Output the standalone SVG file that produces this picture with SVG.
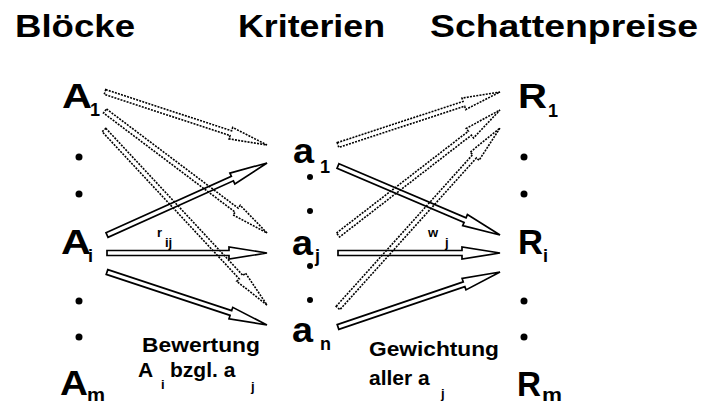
<svg xmlns="http://www.w3.org/2000/svg" width="702" height="405" viewBox="0 0 702 405">
<style>
.t{font-family:"Liberation Sans",Arial,sans-serif;font-weight:bold;font-size:31px;fill:#000}
.big{font-family:"Liberation Sans",Arial,sans-serif;font-weight:bold;font-size:35px;fill:#000}
.sm{font-family:"Liberation Sans",Arial,sans-serif;font-weight:bold;font-size:18px;fill:#000}
.lb{font-family:"Liberation Sans",Arial,sans-serif;font-weight:bold;font-size:21px;fill:#000}
.ls{font-family:"Liberation Sans",Arial,sans-serif;font-weight:bold;font-size:13px;fill:#000}
.ar{fill:none;stroke:#000;stroke-width:1.7;stroke-linejoin:miter}
.da{fill:none;stroke:#000;stroke-width:1.6;stroke-dasharray:2 1.2}
</style>
<rect width="702" height="405" fill="#fff"/>
<g id="titles">
<text class="t" x="15" y="37" textLength="120" lengthAdjust="spacingAndGlyphs">Blöcke</text>
<text class="t" x="238" y="37" textLength="147" lengthAdjust="spacingAndGlyphs">Kriterien</text>
<text class="t" x="430" y="37" textLength="268" lengthAdjust="spacingAndGlyphs">Schattenpreise</text>
</g>
<g id="connectors">
<path class="da" transform="translate(105,92) rotate(18.12)" d="M0,-2.5 H132.4 V-6 L170.4,0 L132.4,6 V2.5 H0 Z"/>
<path class="da" transform="translate(105,111) rotate(36.98)" d="M0,-2.5 H164.8 V-6 L202.8,0 L164.8,6 V2.5 H0 Z"/>
<path class="da" transform="translate(104,130) rotate(47.03)" d="M0,-2.5 H201.2 V-6 L239.2,0 L201.2,6 V2.5 H0 Z"/>
<path class="ar" transform="translate(107,235) rotate(-24.23)" d="M0,-2.5 H137.5 V-6 L175.5,0 L137.5,6 V2.5 H0 Z"/>
<path class="ar" transform="translate(107,253)" d="M0,-2.5 H122 V-6 L160,0 L122,6 V2.5 H0 Z"/>
<path class="ar" transform="translate(107,272) rotate(18.33)" d="M0,-2.5 H130.5 V-6 L168.5,0 L130.5,6 V2.5 H0 Z"/>
<path class="da" transform="translate(338,145) rotate(-18.12)" d="M0,-2.5 H132.4 V-6 L170.4,0 L132.4,6 V2.5 H0 Z"/>
<path class="da" transform="translate(338,235) rotate(-37.66)" d="M0,-2.5 H166.6 V-6 L204.6,0 L166.6,6 V2.5 H0 Z"/>
<path class="da" transform="translate(338,308) rotate(-48.01)" d="M0,-2.5 H204.2 V-6 L242.2,0 L204.2,6 V2.5 H0 Z"/>
<path class="ar" transform="translate(338,166) rotate(23.07)" d="M0,-2.5 H138.1 V-6 L176.1,0 L138.1,6 V2.5 H0 Z"/>
<path class="ar" transform="translate(338,253)" d="M0,-2.5 H124 V-6 L162,0 L124,6 V2.5 H0 Z"/>
<path class="ar" transform="translate(338,327) rotate(-18.75)" d="M0,-2.5 H133.1 V-6 L171.1,0 L133.1,6 V2.5 H0 Z"/>
</g>
<g id="A1"><text class="big" x="62" y="108" textLength="30" lengthAdjust="spacingAndGlyphs">A</text><text class="sm" x="90" y="116">1</text></g>
<g id="Ai"><text class="big" x="61" y="254" textLength="30" lengthAdjust="spacingAndGlyphs">A</text><text class="sm" x="88" y="262">i</text></g>
<g id="Am"><text class="big" x="60" y="395" textLength="28" lengthAdjust="spacingAndGlyphs">A</text><text class="sm" x="87" y="401" font-size="19" textLength="18" lengthAdjust="spacingAndGlyphs">m</text></g>
<g id="dotsA"><circle cx="79" cy="157" r="3.5"/><circle cx="79" cy="194" r="3.5"/><circle cx="79" cy="301" r="3.5"/><circle cx="79" cy="337" r="3.5"/></g>
<g id="a1"><text class="big" x="293" y="163" font-size="36" textLength="21" lengthAdjust="spacingAndGlyphs">a</text><text class="sm" x="320" y="173" font-size="16">1</text></g>
<g id="aj"><text class="big" x="292" y="255" font-size="36" textLength="21" lengthAdjust="spacingAndGlyphs">a</text><text class="sm" x="315" y="262" font-size="16">j</text></g>
<g id="an"><text class="big" x="292" y="342" font-size="36" textLength="21" lengthAdjust="spacingAndGlyphs">a</text><text class="sm" x="320" y="350">n</text></g>
<g id="dotsa"><circle cx="310" cy="177" r="3"/><circle cx="310" cy="211" r="3"/><circle cx="310" cy="266" r="3"/><circle cx="310" cy="300" r="3"/></g>
<g id="R1"><text class="big" x="518" y="108" textLength="29" lengthAdjust="spacingAndGlyphs">R</text><text class="sm" x="548" y="117">1</text></g>
<g id="Ri"><text class="big" x="518" y="254" textLength="25" lengthAdjust="spacingAndGlyphs">R</text><text class="sm" x="543" y="262">i</text></g>
<g id="Rm"><text class="big" x="517" y="396" textLength="24" lengthAdjust="spacingAndGlyphs">R</text><text class="sm" x="542" y="401" font-size="19" textLength="20" lengthAdjust="spacingAndGlyphs">m</text></g>
<g id="dotsR"><circle cx="524" cy="157" r="3.5"/><circle cx="524" cy="194" r="3.5"/><circle cx="524" cy="301" r="3.5"/><circle cx="524" cy="337" r="3.5"/></g>
<g id="rij"><text class="ls" x="157" y="237" font-size="14">r</text><text class="ls" x="165" y="247" font-size="12">ij</text></g>
<g id="wj"><text class="ls" x="428" y="237" font-size="14">w</text><text class="ls" x="445" y="247" font-size="12">j</text></g>
<g id="bewertung">
<text class="lb" x="142" y="352" textLength="118" lengthAdjust="spacingAndGlyphs">Bewertung</text>
<text class="lb" x="138" y="377" font-size="19">A</text><text class="ls" x="161" y="389" font-size="14">i</text>
<text class="lb" x="170" y="377" font-size="19">bzgl. a</text><text class="ls" x="251" y="391" font-size="14">j</text>
</g>
<g id="gewichtung">
<text class="lb" x="369" y="356" textLength="130" lengthAdjust="spacingAndGlyphs">Gewichtung</text>
<text class="lb" x="369" y="385" font-size="19">aller a</text><text class="ls" x="441" y="398" font-size="14">j</text>
</g>
</svg>
